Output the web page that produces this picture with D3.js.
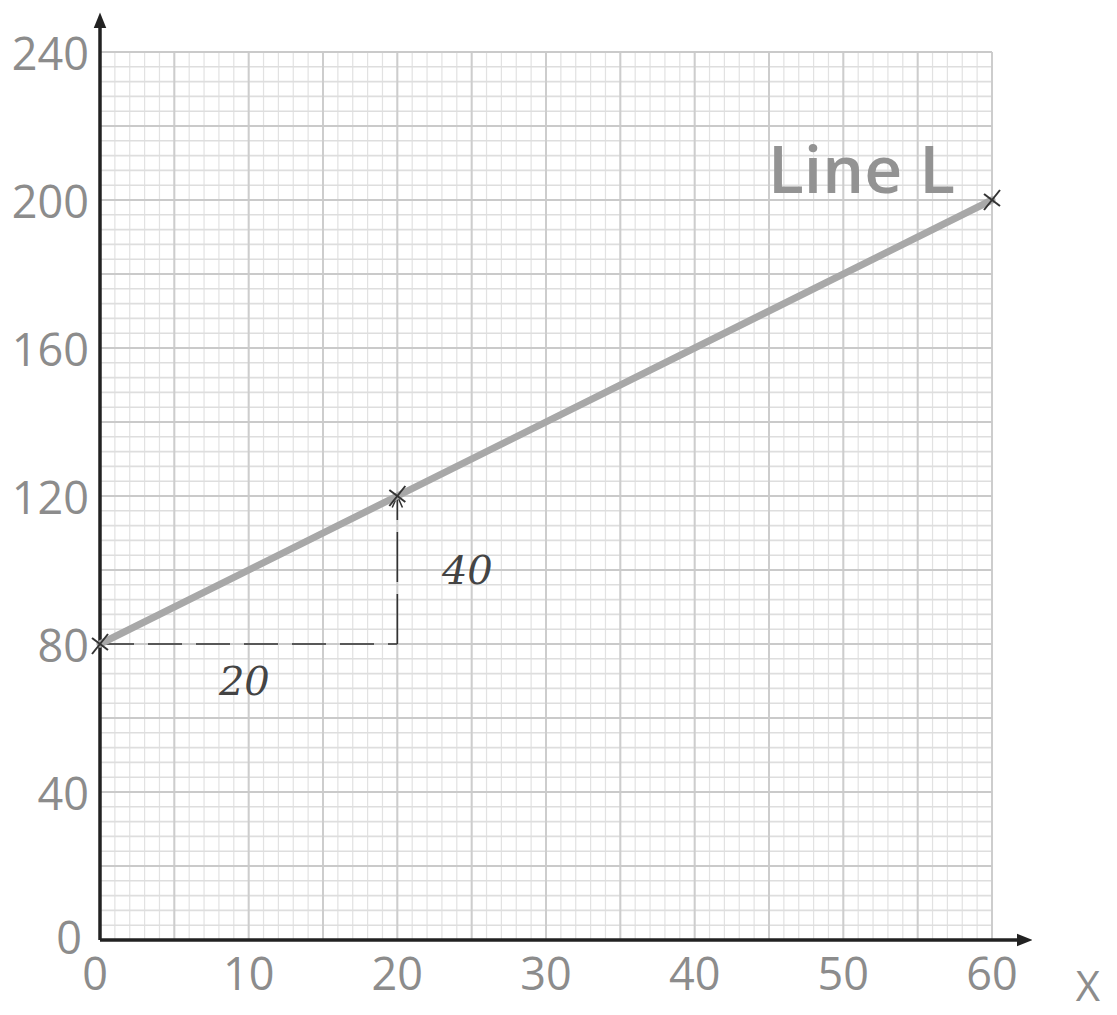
<!DOCTYPE html>
<html>
<head>
<meta charset="utf-8">
<script src="https://cdn.jsdelivr.net/npm/d3@7"></script>
<style>
  body { margin: 0; background: #fff; }
  svg { display: block; }
</style>
</head>
<body>
<div id="chart"></div>
<script>
// data
const xTicks = [0, 10, 20, 30, 40, 50, 60];
const yTicks = [0, 40, 80, 120, 160, 200, 240];
const linePoints = [[0, 80], [60, 200]];
const markedPoints = [[0, 80], [20, 120], [60, 200]];
const runRise = [[0, 80], [20, 80], [20, 120]];
const runLabel = { text: "20", x: 8, y: 70 };
const riseLabel = { text: "40", x: 23, y: 100 };
const lineName = "Line L";
const xAxisName = "X";

const W = 1117, H = 1015;

const svg = d3.select("#chart")
    .append("svg")
    .attr("width", W)
    .attr("height", H);

const x = d3.scaleLinear().domain([0, 60]).range([100, 992]);
const y = d3.scaleLinear().domain([0, 240]).range([940, 52]);

const grid = svg.append("g").attr("class", "grid");

// minor grid: 1 unit across, 4 units up
grid.selectAll(".vminor").data(d3.range(0, 61, 1)).enter()
    .append("line")
    .attr("x1", d => x(d)).attr("x2", d => x(d))
    .attr("y1", y(0)).attr("y2", y(240))
    .attr("stroke", "#e2e2e2")
    .attr("stroke-width", 1.2);

grid.selectAll(".hminor").data(d3.range(0, 241, 4)).enter()
    .append("line")
    .attr("x1", x(0)).attr("x2", x(60))
    .attr("y1", d => y(d)).attr("y2", d => y(d))
    .attr("stroke", "#dedede")
    .attr("stroke-width", 1.6);

// major grid: 5 units across, 20 units up
grid.selectAll(".vmajor").data(d3.range(0, 61, 5)).enter()
    .append("line")
    .attr("x1", d => x(d)).attr("x2", d => x(d))
    .attr("y1", y(0)).attr("y2", y(240))
    .attr("stroke", "#cdcdcd")
    .attr("stroke-width", 2);

grid.selectAll(".hmajor").data(d3.range(0, 241, 20)).enter()
    .append("line")
    .attr("x1", x(0)).attr("x2", x(60))
    .attr("y1", d => y(d)).attr("y2", d => y(d))
    .attr("stroke", "#cacaca")
    .attr("stroke-width", 2.2);

// arrowheads
const defs = svg.append("defs");
defs.append("marker")
    .attr("id", "axisArrow")
    .attr("viewBox", "0 0 10 10")
    .attr("refX", 6).attr("refY", 5)
    .attr("markerWidth", 4.5).attr("markerHeight", 4.5)
    .attr("markerUnits", "strokeWidth")
    .attr("orient", "auto")
    .append("path")
    .attr("d", "M0,1 L10,5 L0,9 Z")
    .attr("fill", "#222");

defs.append("marker")
    .attr("id", "penArrow")
    .attr("viewBox", "0 0 10 10")
    .attr("refX", 9).attr("refY", 5)
    .attr("markerWidth", 8).attr("markerHeight", 8)
    .attr("markerUnits", "strokeWidth")
    .attr("orient", "auto")
    .append("path")
    .attr("d", "M0,1 L9,5 L0,9")
    .attr("fill", "none")
    .attr("stroke", "#333")
    .attr("stroke-width", 1.2);

// axes
svg.append("line")
    .attr("x1", x(0)).attr("y1", y(0))
    .attr("x2", x(62.3)).attr("y2", y(0))
    .attr("stroke", "#222")
    .attr("stroke-width", 3.5)
    .attr("marker-end", "url(#axisArrow)");

svg.append("line")
    .attr("x1", x(0)).attr("y1", y(0))
    .attr("x2", x(0)).attr("y2", y(249))
    .attr("stroke", "#222")
    .attr("stroke-width", 3.5)
    .attr("marker-end", "url(#axisArrow)");

const labelFont = "'Open Sans', 'DejaVu Sans', sans-serif";

// tick labels
svg.selectAll(".ylab").data(yTicks).enter()
    .append("text")
    .attr("x", d => d === 0 ? 82 : 89)
    .attr("y", d => d === 0 ? y(d) - 4 : y(d))
    .attr("text-anchor", "end")
    .attr("dominant-baseline", "central")
    .style("font-family", labelFont)
    .style("font-size", "45px")
    .style("fill", "#8c8c8c")
    .text(d => d);

svg.selectAll(".xlab").data(xTicks).enter()
    .append("text")
    .attr("x", d => d === 0 ? x(d) - 5 : x(d))
    .attr("y", 972)
    .attr("text-anchor", "middle")
    .attr("dominant-baseline", "central")
    .style("font-family", labelFont)
    .style("font-size", "45px")
    .style("fill", "#8c8c8c")
    .text(d => d);

svg.append("text")
    .attr("x", 1088)
    .attr("y", 1001)
    .attr("text-anchor", "middle")
    .style("font-family", labelFont)
    .style("font-size", "42px")
    .style("fill", "#8c8c8c")
    .text(xAxisName);

// run / rise construction
svg.append("path")
    .datum(runRise.slice(0, 2))
    .attr("d", d3.line().x(d => x(d[0])).y(d => y(d[1])))
    .attr("fill", "none")
    .attr("stroke", "#333")
    .attr("stroke-width", 1.6)
    .attr("stroke-dasharray", "34,14");

svg.append("path")
    .datum(runRise.slice(1))
    .attr("d", d3.line().x(d => x(d[0])).y(d => y(d[1])))
    .attr("fill", "none")
    .attr("stroke", "#333")
    .attr("stroke-width", 1.6)
    .attr("stroke-dasharray", "50,12")
    .attr("marker-end", "url(#penArrow)");

const penFont = "'DejaVu Serif', serif";

[runLabel, riseLabel].forEach(l => {
    svg.append("text")
        .attr("x", x(l.x))
        .attr("y", y(l.y))
        .attr("dominant-baseline", "central")
        .style("font-family", penFont)
        .style("font-style", "italic")
        .style("font-size", "40px")
        .style("fill", "#444")
        .text(l.text);
});

// the line itself
svg.append("path")
    .datum(linePoints)
    .attr("d", d3.line().x(d => x(d[0])).y(d => y(d[1])))
    .attr("fill", "none")
    .attr("stroke", "#a8a8a8")
    .attr("stroke-width", 7)
    .attr("stroke-linecap", "round");

// pencil crosses
const cross = svg.selectAll(".cross").data(markedPoints).enter()
    .append("g")
    .attr("transform", d => `translate(${x(d[0])},${y(d[1])})`);

cross.append("line")
    .attr("x1", -8).attr("y1", 10).attr("x2", 8).attr("y2", -10)
    .attr("stroke", "#333").attr("stroke-width", 2);

cross.append("line")
    .attr("x1", -8).attr("y1", -6).attr("x2", 8).attr("y2", 6)
    .attr("stroke", "#333").attr("stroke-width", 2);

// line name
svg.append("text")
    .attr("x", 768)
    .attr("y", 193)
    .style("font-family", labelFont)
    .style("font-size", "66px")
    .style("font-weight", "600")
    .style("fill", "#939393")
    .text(lineName);
</script>
</body>
</html>
